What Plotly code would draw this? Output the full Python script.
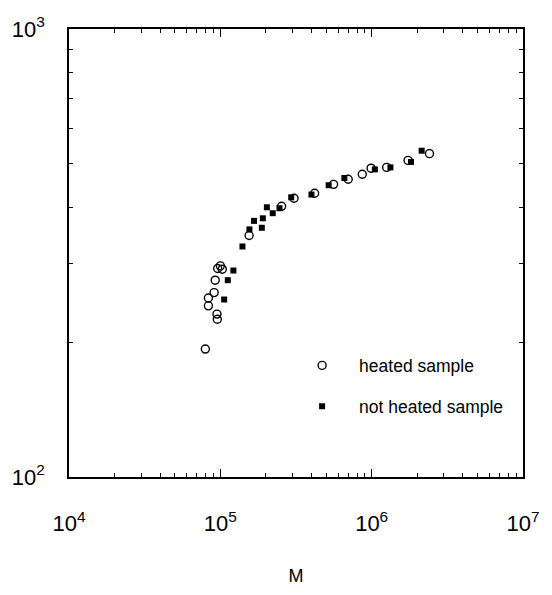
import plotly.graph_objects as go

# heated sample (open circles)
heated_M = [79.6e3, 83.4e3, 83.4e3, 91e3, 92.5e3, 95e3, 96e3, 100e3, 103e3, 95.5e3,
            155e3, 254e3, 307e3, 420e3, 560e3, 700e3, 867e3, 991e3, 1.256e6, 1.74e6, 2.41e6]
heated_v = [193, 251, 241, 258, 275, 231, 292, 296, 291, 225,
            346, 402, 419, 430, 450, 462, 474, 489, 491, 509, 527]

# not heated sample (filled squares)
notheated_M = [106e3, 112e3, 122e3, 140e3, 155.7e3, 167e3, 188e3, 191e3, 203e3, 222e3,
               246e3, 294e3, 400e3, 520e3, 660e3, 1.05e6, 1.33e6, 1.82e6, 2.14e6]
notheated_v = [249, 275, 289, 327, 357, 373, 360, 378, 400, 388,
               398, 421, 427, 448, 465, 486, 491, 505, 535]

x_tickvals = [1e4, 1e5, 1e6, 1e7]
x_ticktext = ["10<sup>4</sup>", "10<sup>5</sup>", "10<sup>6</sup>", "10<sup>7</sup>"]
y_tickvals = [1e2, 1e3]
y_ticktext = ["10<sup>2</sup>", "10<sup>3</sup>"]
x_minor = [m * 10 ** e for e in (4, 5, 6) for m in range(2, 10)]
y_minor = [m * 100 for m in range(2, 10)]

FONT = "Liberation Sans, Arial, sans-serif"

fig = go.Figure()
fig.add_trace(go.Scatter(
    x=heated_M, y=heated_v, mode="markers", name="heated sample",
    legendgroup="a",
    marker=dict(symbol="circle-open", size=8, color="black", line=dict(width=1.4, color="black"))))
fig.add_trace(go.Scatter(
    x=notheated_M, y=notheated_v, mode="markers", name="not heated sample",
    legendgroup="b",
    marker=dict(symbol="square", size=6, color="black", line=dict(width=0))))

fig.update_layout(
    width=552, height=595,
    margin=dict(l=69, r=17, t=29, b=106),
    paper_bgcolor="white", plot_bgcolor="white",
    font=dict(family=FONT, color="black"),
    showlegend=True,
    legend=dict(x=0.476, y=0.289, xanchor="left", yanchor="top",
                bgcolor="rgba(0,0,0,0)", font=dict(size=17.5, family=FONT),
                traceorder="grouped", tracegroupgap=15, itemwidth=64),
    xaxis=dict(type="log", range=[4, 7], showgrid=False, zeroline=False,
               showline=True, linecolor="black", linewidth=1.5, mirror="allticks",
               ticks="inside", ticklen=8, tickwidth=1, tickcolor="black",
               tickmode="array", tickvals=x_tickvals, ticktext=x_ticktext,
               tickfont=dict(size=22, family=FONT), ticklabelstandoff=26,
               minor=dict(ticks="inside", ticklen=4, tickwidth=1, tickcolor="black",
                          tickmode="array", tickvals=x_minor, showgrid=False),
               title=dict(text="M", font=dict(size=18, family=FONT), standoff=34)),
    yaxis=dict(type="log", range=[2, 3], showgrid=False, zeroline=False,
               showline=True, linecolor="black", linewidth=1.5, mirror="allticks",
               ticks="inside", ticklen=8, tickwidth=1, tickcolor="black",
               tickmode="array", tickvals=y_tickvals, ticktext=y_ticktext,
               tickfont=dict(size=22, family=FONT), ticklabelstandoff=18,
               minor=dict(ticks="inside", ticklen=4, tickwidth=1, tickcolor="black",
                          tickmode="array", tickvals=y_minor, showgrid=False)),
)

fig.write_html("out.html")
